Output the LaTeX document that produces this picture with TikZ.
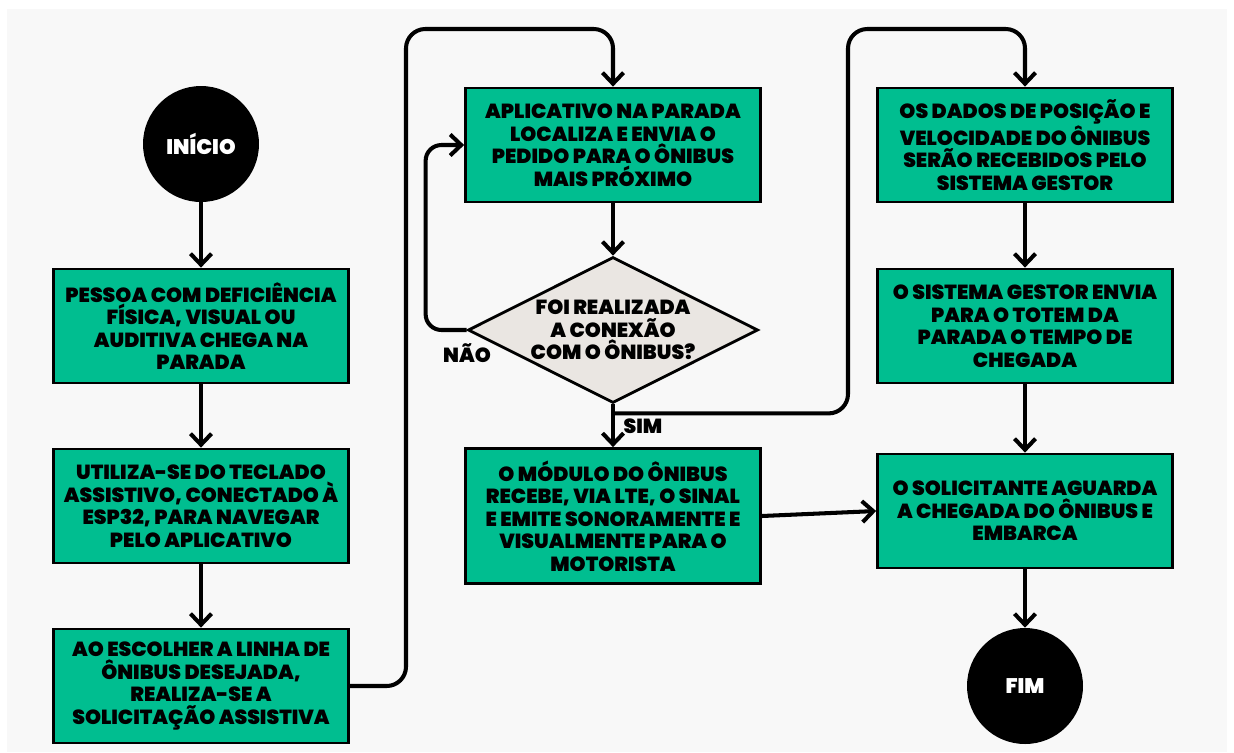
\documentclass[tikz,border=0pt]{standalone}
\usepackage{fontspec}
\setmainfont{Poppins}[BoldFont={Poppins Black}]
\usetikzlibrary{arrows.meta,shapes.geometric}
\definecolor{caixa}{RGB}{0,190,144}
\definecolor{losango}{RGB}{234,230,226}
\definecolor{fundo}{RGB}{248,248,248}
\begin{document}
\begin{tikzpicture}[x=0.02cm,y=-0.02cm,>={Straight Barb[length=2.2mm,width=4.2mm]},
  box/.style={draw,fill=caixa,line width=1.6pt,minimum width=5.9cm,minimum height=2.28cm,
    align=center,font=\fontsize{11.6}{12.8}\selectfont\bfseries},
  term/.style={circle,fill=black,minimum size=2.32cm,text=white,font=\fontsize{12}{12}\selectfont\bfseries},
  decision/.style={diamond,draw,fill=losango,line width=1.6pt,aspect=2,inner sep=0pt,
    minimum width=5.8cm,minimum height=2.92cm,align=center,font=\fontsize{11.6}{12.8}\selectfont\bfseries},
  lbl/.style={font=\fontsize{11.6}{12}\selectfont\bfseries},
  arr/.style={->,line width=2.3pt}]
\useasboundingbox (0,0) rectangle (1234,752);
\fill[fundo] (7,9) rectangle (1227,752);
% coluna da esquerda
\node[term] (inicio) at (201,144) {INÍCIO};
\node[box] (pessoa) at (201,326) {PESSOA COM DEFICIÊNCIA\\FÍSICA, VISUAL OU\\AUDITIVA CHEGA NA\\PARADA};
\node[box] (teclado) at (201,506) {UTILIZA-SE DO TECLADO\\ASSISTIVO, CONECTADO À\\ESP32, PARA NAVEGAR\\PELO APLICATIVO};
\node[box] (escolher) at (201,686) {AO ESCOLHER A LINHA DE\\ÔNIBUS DESEJADA,\\REALIZA-SE A\\SOLICITAÇÃO ASSISTIVA};
% coluna do meio
\node[box] (aplicativo) at (613,145) {APLICATIVO NA PARADA\\LOCALIZA E ENVIA O\\PEDIDO PARA O ÔNIBUS\\MAIS PRÓXIMO};
\node[decision] (conexao) at (613,330) {FOI REALIZADA\\A CONEXÃO\\COM O ÔNIBUS?};
\node[box,minimum height=2.7cm] (modulo) at (613,516) {O MÓDULO DO ÔNIBUS\\RECEBE, VIA LTE, O SINAL\\E EMITE SONORAMENTE E\\VISUALMENTE PARA O\\MOTORISTA};
\node[lbl] (nao) at (467,353) {NÃO};
\node[lbl] (sim) at (643,426) {SIM};
% coluna da direita
\node[box] (dados) at (1025,145) {OS DADOS DE POSIÇÃO E\\VELOCIDADE DO ÔNIBUS\\SERÃO RECEBIDOS PELO\\SISTEMA GESTOR};
\node[box] (gestor) at (1025,326) {O SISTEMA GESTOR ENVIA\\PARA O TOTEM DA\\PARADA O TEMPO DE\\CHEGADA};
\node[box] (aguarda) at (1025,511) {O SOLICITANTE AGUARDA\\A CHEGADA DO ÔNIBUS E\\EMBARCA};
\node[term] (fim) at (1025,686) {FIM};
% setas
\draw[arr] (inicio) -- (pessoa);
\draw[arr] (pessoa) -- (teclado);
\draw[arr] (teclado) -- (escolher);
\draw[arr,rounded corners=11pt] (escolher.east) -| (406,29) -| (aplicativo.north);
\draw[arr] (aplicativo) -- (conexao);
\draw[arr,rounded corners=9pt] (conexao.west) -- ++(-41,0) |- (aplicativo.west);
\draw[arr] (conexao.south) -- (modulo.north);
\draw[arr,rounded corners=11pt] (conexao.south) ++(0,9) -| (848,29) -| (dados.north);
\draw[arr] (modulo.east) -- (aguarda.west);
\draw[arr] (dados) -- (gestor);
\draw[arr] (gestor) -- (aguarda);
\draw[arr] (aguarda) -- (fim);
\end{tikzpicture}
\end{document}
